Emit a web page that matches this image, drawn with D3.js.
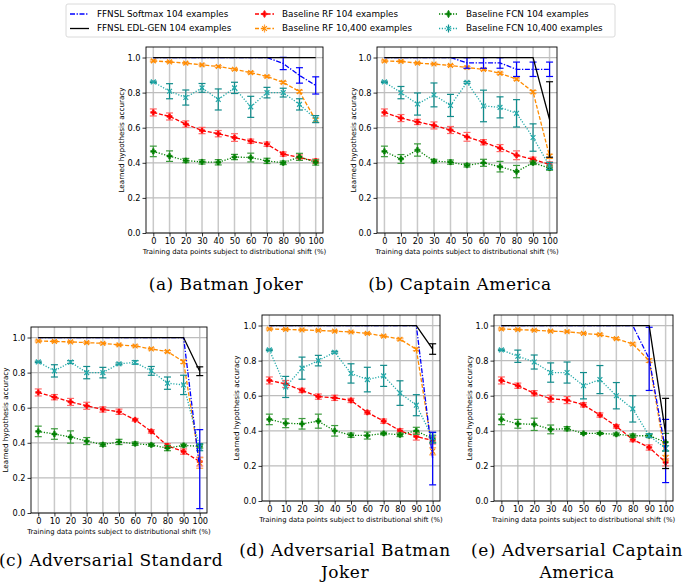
<!DOCTYPE html>
<html><head><meta charset="utf-8">
<script src="https://cdn.jsdelivr.net/npm/d3@7"></script>
<style>body{margin:0;background:#fff}svg{display:block}</style>
</head><body>
<script>
// ---------------- DATA ----------------
const shiftPct = [0,10,20,30,40,50,60,70,80,90,100];
const yTickValues = [0,0.2,0.4,0.6,0.8,1.0];
const seriesNames = ["FFNSL Softmax 104 examples","FFNSL EDL-GEN 104 examples","Baseline RF 104 examples","Baseline RF 10,400 examples","Baseline FCN 104 examples","Baseline FCN 10,400 examples"];
const panelTitles = [["(a) Batman Joker"],["(b) Captain America"],["(c) Adversarial Standard"],["(d) Adversarial Batman","Joker"],["(e) Adversarial Captain","America"]];
const xLabel = "Training data points subject to distributional shift (%)";
const yLabel = "Learned hypothesis accuracy";

// (a) Batman Joker
const aSoftmax = [1,1,1,1,1,1,1,1,0.966,0.898,0.841];
const aSoftmaxErr = [0,0,0,0,0,0,0,0,0.035,0.044,0.049];
const aEdl = [1,1,1,1,1,1,1,1,1,1,1];
const aEdlErr = [0,0,0,0,0,0,0,0,0,0,0];
const aRf104 = [0.687,0.664,0.621,0.584,0.566,0.544,0.523,0.506,0.450,0.430,0.410];
const aRf104Err = [0.02,0.02,0.018,0.018,0.018,0.022,0.012,0.012,0.012,0.015,0.012];
const aRf10400 = [0.981,0.975,0.968,0.958,0.949,0.933,0.914,0.892,0.858,0.806,0.643];
const aRf10400Err = [0.005,0.004,0.004,0.005,0.005,0.005,0.006,0.005,0.006,0.008,0.012];
const aFcn104 = [0.465,0.438,0.413,0.405,0.403,0.433,0.430,0.411,0.400,0.434,0.402];
const aFcn104Err = [0.03,0.03,0.012,0.012,0.015,0.015,0.025,0.015,0.01,0.02,0.015];
const aFcn10400 = [0.861,0.808,0.772,0.827,0.761,0.827,0.719,0.800,0.800,0.733,0.649];
const aFcn10400Err = [0.004,0.043,0.043,0.025,0.06,0.032,0.06,0.03,0.025,0.032,0.02];

// (b) Captain America
const bSoftmax = [1,1,1,1,1,0.969,0.969,0.969,0.933,0.933,0.933];
const bSoftmaxErr = [0,0,0,0,0,0.03,0.03,0.03,0.041,0.041,0.041];
const bEdl = [1,1,1,1,1,1,1,1,1,1,0.647];
const bEdlErr = [0,0,0,0,0,0,0,0,0,0,0.215];
const bRf104 = [0.687,0.655,0.633,0.613,0.587,0.548,0.517,0.484,0.443,0.420,0.390];
const bRf104Err = [0.02,0.02,0.015,0.02,0.02,0.025,0.015,0.02,0.025,0.012,0.015];
const bRf10400 = [0.980,0.978,0.968,0.963,0.955,0.943,0.932,0.910,0.877,0.804,0.437];
const bRf10400Err = [0.005,0.004,0.004,0.004,0.005,0.006,0.005,0.006,0.006,0.008,0.012];
const bFcn104 = [0.465,0.422,0.473,0.410,0.404,0.386,0.400,0.378,0.350,0.400,0.370];
const bFcn104Err = [0.03,0.025,0.035,0.01,0.012,0.01,0.02,0.03,0.035,0.01,0.012];
const bFcn10400 = [0.861,0.800,0.735,0.787,0.727,0.858,0.724,0.716,0.682,0.544,0.382];
const bFcn10400Err = [0.004,0.035,0.063,0.068,0.063,0.005,0.09,0.06,0.078,0.078,0.02];

// (c) Adversarial Standard
const cSoftmax = [1,1,1,1,1,1,1,1,1,1,0.25];
const cSoftmaxErr = [0,0,0,0,0,0,0,0,0,0,0.225];
const cEdl = [1,1,1,1,1,1,1,1,1,1,0.808];
const cEdlErr = [0,0,0,0,0,0,0,0,0,0,0.025];
const cRf104 = [0.687,0.660,0.633,0.611,0.590,0.577,0.531,0.465,0.383,0.350,0.293];
const cRf104Err = [0.02,0.015,0.02,0.02,0.015,0.015,0.008,0.01,0.012,0.015,0.025];
const cRf10400 = [0.980,0.978,0.975,0.971,0.967,0.958,0.952,0.935,0.920,0.862,0.285];
const cRf10400Err = [0.005,0.004,0.004,0.004,0.004,0.004,0.005,0.005,0.006,0.01,0.03];
const cFcn104 = [0.465,0.450,0.433,0.410,0.390,0.405,0.395,0.388,0.370,0.385,0.380];
const cFcn104Err = [0.03,0.03,0.035,0.02,0.01,0.015,0.01,0.008,0.015,0.008,0.01];
const cFcn10400 = [0.861,0.810,0.860,0.800,0.800,0.850,0.858,0.810,0.740,0.730,0.375];
const cFcn10400Err = [0.004,0.035,0.008,0.035,0.03,0.005,0.01,0.025,0.035,0.055,0.02];

// (d) Adversarial Batman Joker
const dSoftmax = [1,1,1,1,1,1,1,1,1,1,0.242];
const dSoftmaxErr = [0,0,0,0,0,0,0,0,0,0,0.15];
const dEdl = [1,1,1,1,1,1,1,1,1,1,0.866];
const dEdlErr = [0,0,0,0,0,0,0,0,0,0,0.03];
const dRf104 = [0.687,0.667,0.630,0.595,0.588,0.573,0.505,0.455,0.400,0.367,0.345];
const dRf104Err = [0.02,0.02,0.012,0.015,0.015,0.012,0.01,0.012,0.012,0.02,0.02];
const dRf10400 = [0.980,0.978,0.975,0.972,0.968,0.963,0.955,0.940,0.922,0.865,0.283];
const dRf10400Err = [0.005,0.004,0.004,0.004,0.004,0.004,0.005,0.005,0.006,0.008,0.02];
const dFcn104 = [0.465,0.443,0.440,0.455,0.400,0.375,0.373,0.385,0.377,0.400,0.355];
const dFcn104Err = [0.03,0.025,0.03,0.04,0.03,0.012,0.02,0.008,0.01,0.02,0.02];
const dFcn10400 = [0.861,0.650,0.757,0.800,0.848,0.727,0.692,0.713,0.615,0.546,0.360];
const dFcn10400Err = [0.004,0.06,0.063,0.03,0.005,0.055,0.07,0.06,0.07,0.06,0.03];

// (e) Adversarial Captain America
const eSoftmax = [1,1,1,1,1,1,1,1,1,0.81,0.285];
const eSoftmaxErr = [0,0,0,0,0,0,0,0,0,0.18,0.18];
const eEdl = [1,1,1,1,1,1,1,1,1,1,0.385];
const eEdlErr = [0,0,0,0,0,0,0,0,0,0,0.2];
const eRf104 = [0.687,0.657,0.614,0.583,0.575,0.548,0.490,0.425,0.350,0.305,0.220];
const eRf104Err = [0.02,0.015,0.015,0.02,0.02,0.012,0.012,0.01,0.012,0.015,0.02];
const eRf10400 = [0.980,0.977,0.973,0.968,0.965,0.955,0.948,0.925,0.895,0.800,0.245];
const eRf10400Err = [0.005,0.004,0.004,0.004,0.004,0.004,0.005,0.005,0.006,0.01,0.015];
const eFcn104 = [0.465,0.440,0.437,0.408,0.412,0.385,0.385,0.380,0.372,0.372,0.335];
const eFcn104Err = [0.03,0.025,0.035,0.025,0.012,0.005,0.005,0.008,0.01,0.01,0.05];
const eFcn10400 = [0.861,0.825,0.792,0.732,0.732,0.657,0.692,0.600,0.525,0.372,0.300];
const eFcn10400Err = [0.004,0.035,0.04,0.055,0.06,0.075,0.08,0.075,0.075,0.01,0.015];

// ---------------- STYLE / LAYOUT ----------------
const W = 685, H = 582;
const FONT = "DejaVu Sans, sans-serif";
const SERIF = "DejaVu Serif, serif";
const lineColor = ["#0000ff","#000000","#ff0000","#ff8c00","#008000","#22a9a9"];
const errColor  = ["#0000ff","#000000","#ff6a6a","#ffa347","#3c9a3c","#118c8c"];
const dashes    = ["5,1.6,1.3,1.6", null, "4,1.8", "4,1.8", "1.2,1.6", "1.2,1.6"];
const markers   = [null, null, "plus", "x", "plus", "x"];
const drawOrder = [2,3,4,5,0,1];

const panels = [
  {l:146, r:323, t:47,  b:233, ylx:122, cap:[[226,290]], data:[[aSoftmax,aSoftmaxErr],[aEdl,aEdlErr],[aRf104,aRf104Err],[aRf10400,aRf10400Err],[aFcn104,aFcn104Err],[aFcn10400,aFcn10400Err]]},
  {l:377, r:557, t:47,  b:233, ylx:354, cap:[[460,290]], data:[[bSoftmax,bSoftmaxErr],[bEdl,bEdlErr],[bRf104,bRf104Err],[bRf10400,bRf10400Err],[bFcn104,bFcn104Err],[bFcn10400,bFcn10400Err]]},
  {l:31,  r:207, t:327, b:513, ylx:6,   cap:[[111,566]], data:[[cSoftmax,cSoftmaxErr],[cEdl,cEdlErr],[cRf104,cRf104Err],[cRf10400,cRf10400Err],[cFcn104,cFcn104Err],[cFcn10400,cFcn10400Err]]},
  {l:262, r:440, t:315, b:501, ylx:237, cap:[[345,556],[345,578]], data:[[dSoftmax,dSoftmaxErr],[dEdl,dEdlErr],[dRf104,dRf104Err],[dRf10400,dRf10400Err],[dFcn104,dFcn104Err],[dFcn10400,dFcn10400Err]]},
  {l:494, r:673, t:315, b:501, ylx:470, cap:[[577,556],[577,578]], data:[[eSoftmax,eSoftmaxErr],[eEdl,eEdlErr],[eRf104,eRf104Err],[eRf10400,eRf10400Err],[eFcn104,eFcn104Err],[eFcn10400,eFcn10400Err]]},
];

const svg = d3.select("body").append("svg").attr("width",W).attr("height",H)
  .style("font-family",FONT);

function drawMarker(g, type, x, y, color) {
  if (type === "plus") {
    g.append("path").attr("d", d3.symbol(d3.symbolCross, 15)())
      .attr("transform",`translate(${x},${y})`).attr("fill",color).attr("stroke",color).attr("stroke-width",0.6);
  } else if (type === "x") {
    const s = 2.4;
    g.append("path").attr("d",`M${x-s},${y-s}L${x+s},${y+s}M${x-s},${y+s}L${x+s},${y-s}`)
      .attr("stroke",color).attr("stroke-width",1.2).attr("fill","none");
  }
}

panels.forEach((p, pi) => {
  const x = d3.scaleLinear().domain([-4.5,104.5]).range([p.l,p.r]);
  const y = d3.scaleLinear().domain([0,1.06]).range([p.b,p.t]);
  const g = svg.append("g");

  // grid
  g.append("g").selectAll("line").data(shiftPct).join("line")
    .attr("x1",d=>x(d)).attr("x2",d=>x(d)).attr("y1",p.t).attr("y2",p.b)
    .attr("stroke","#c9c9c9").attr("stroke-width",1.5);
  g.append("g").selectAll("line").data(yTickValues).join("line")
    .attr("x1",p.l).attr("x2",p.r).attr("y1",d=>y(d)).attr("y2",d=>y(d))
    .attr("stroke","#bdbdbd").attr("stroke-width",1.2);

  // axes
  const xa = g.append("g").attr("transform",`translate(0,${p.b})`)
    .call(d3.axisBottom(x).tickValues(shiftPct).tickFormat(d3.format("d")).tickSize(3.5).tickPadding(2));
  const ya = g.append("g").attr("transform",`translate(${p.l},0)`)
    .call(d3.axisLeft(y).tickValues(yTickValues).tickFormat(d3.format(".1f")).tickSize(3.5).tickPadding(2));
  [xa,ya].forEach(a=>{
    a.select(".domain").remove();
    a.selectAll("text").attr("font-size",8.2).attr("font-family",FONT).attr("fill","#000");
    a.selectAll("line").attr("stroke","#000").attr("stroke-width",0.8);
  });

  // clip for data
  const cid = "clip"+pi;
  g.append("clipPath").attr("id",cid).append("rect")
    .attr("x",p.l).attr("y",p.t).attr("width",p.r-p.l).attr("height",p.b-p.t);
  const dg = g.append("g").attr("clip-path",`url(#${cid})`);

  drawOrder.forEach(si => {
    const [vals, errs] = p.data[si];
    const pts = shiftPct.map((s,i)=>({s, v:vals[i], e:errs[i]}));
    const sg = dg.append("g");
    // error bars
    pts.filter(d=>d.e>0).forEach(d=>{
      const cx = x(d.s), y1 = y(d.v+d.e), y2 = y(d.v-d.e);
      sg.append("line").attr("x1",cx).attr("x2",cx).attr("y1",y1).attr("y2",y2)
        .attr("stroke",errColor[si]).attr("stroke-width",1.2);
      [y1,y2].forEach(yy=>sg.append("line").attr("x1",cx-3.5).attr("x2",cx+3.5).attr("y1",yy).attr("y2",yy)
        .attr("stroke",errColor[si]).attr("stroke-width",1.2));
    });
    // line
    const line = d3.line().x(d=>x(d.s)).y(d=>y(d.v));
    sg.append("path").datum(pts).attr("d",line).attr("fill","none")
      .attr("stroke",lineColor[si]).attr("stroke-width",1.3)
      .attr("stroke-dasharray",dashes[si]);
    if (markers[si]) pts.forEach(d=>drawMarker(sg, markers[si], x(d.s), y(d.v), lineColor[si]));
  });

  // frame
  g.append("rect").attr("x",p.l).attr("y",p.t).attr("width",p.r-p.l).attr("height",p.b-p.t)
    .attr("fill","none").attr("stroke","#000").attr("stroke-width",0.9);

  // labels
  g.append("text").attr("x",(p.l+p.r)/2).attr("y",p.b+20.5).attr("text-anchor","middle")
    .attr("font-size",6.9).text(xLabel);
  g.append("text").attr("transform",`translate(${p.ylx},${(p.t+p.b)/2}) rotate(-90)`)
    .attr("text-anchor","middle").attr("dominant-baseline","middle").attr("font-size",7.2).text(yLabel);

  // caption
  panelTitles[pi].forEach((t,k)=>{
    svg.append("text").attr("x",p.cap[k][0]).attr("y",p.cap[k][1]).attr("text-anchor","middle")
      .attr("font-family",SERIF).attr("font-size",17).attr("letter-spacing",0.5)
      .attr("fill","#000").text(t);
  });
});

// ---------------- LEGEND ----------------
const leg = svg.append("g");
leg.append("rect").attr("x",66).attr("y",4).attr("width",549).attr("height",33).attr("rx",2)
  .attr("fill","#fff").attr("stroke","#d6d6d6").attr("stroke-width",0.9);
const colX = [70,255,439];
const rowY = [14,28.5];
seriesNames.forEach((name,si)=>{
  const col = Math.floor(si/2), row = si%2;
  const hx = colX[col], hy = rowY[row];
  leg.append("line").attr("x1",hx).attr("x2",hx+19).attr("y1",hy).attr("y2",hy)
    .attr("stroke",lineColor[si]).attr("stroke-width",1.3).attr("stroke-dasharray",dashes[si]);
  if (si>=2) {
    leg.append("line").attr("x1",hx+9.5).attr("x2",hx+9.5).attr("y1",hy-4).attr("y2",hy+4)
      .attr("stroke",errColor[si]).attr("stroke-width",1.2);
  }
  if (markers[si]) drawMarker(leg, markers[si], hx+9.5, hy, lineColor[si]);
  leg.append("text").attr("x",hx+27).attr("y",hy).attr("dominant-baseline","middle")
    .attr("font-size",8.8).text(name);
});
</script>
</body></html>
